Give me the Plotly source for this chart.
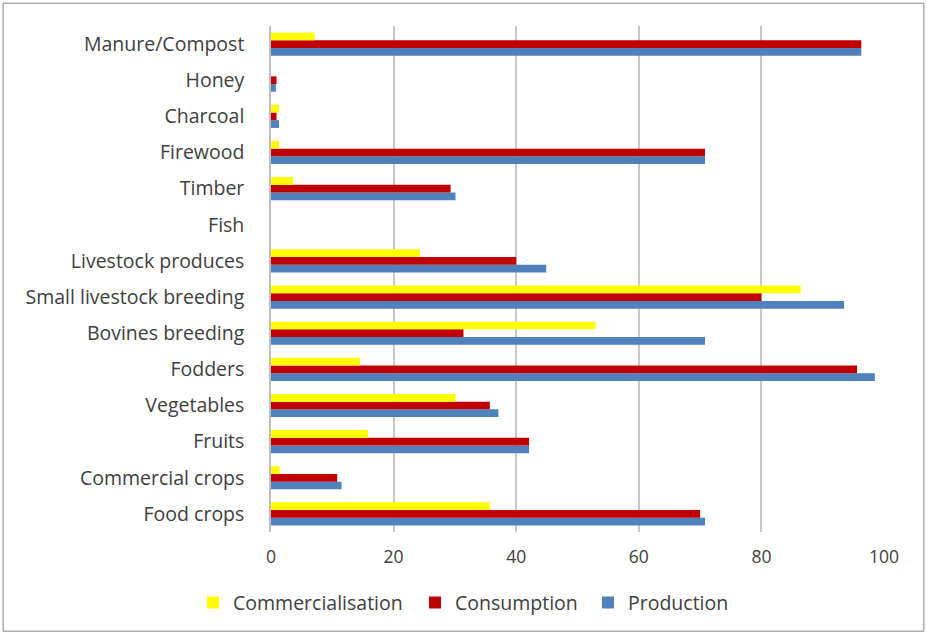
import plotly.graph_objects as go

# Categories listed bottom-to-top as they appear on the chart
categories = [
    "Food crops", "Commercial crops", "Fruits", "Vegetables", "Fodders",
    "Bovines breeding", "Small livestock breeding", "Livestock produces",
    "Fish", "Timber", "Firewood", "Charcoal", "Honey", "Manure/Compost",
]

commercialisation = [35.7, 1.4, 15.8, 30.1, 14.5, 52.9, 86.4, 24.3, 0, 3.6, 1.3, 1.3, 0, 7.1]
consumption = [70.0, 10.8, 42.1, 35.7, 95.6, 31.4, 80.0, 40.0, 0, 29.3, 70.8, 0.9, 0.9, 96.3]
production = [70.8, 11.5, 42.1, 37.1, 98.5, 70.8, 93.5, 44.9, 0, 30.1, 70.8, 1.3, 0.8, 96.3]

x_ticks = [0, 20, 40, 60, 80, 100]

FONT = "Open Sans"
TEXT = "#404040"

fig = go.Figure()
# Plotly stacks grouped horizontal bars from the bottom up, so the series
# that should sit lowest in each group is added first.
fig.add_trace(go.Bar(y=categories, x=production, orientation="h", name="Production",
                     marker=dict(color="#4F81BD", line=dict(width=0)), legend="legend3"))
fig.add_trace(go.Bar(y=categories, x=consumption, orientation="h", name="Consumption",
                     marker=dict(color="#C00000", line=dict(width=0)), legend="legend2"))
fig.add_trace(go.Bar(y=categories, x=commercialisation, orientation="h", name="Commercialisation",
                     marker=dict(color="#FFFF00", line=dict(width=0)), legend="legend"))

legend_font = dict(family=FONT, size=19.5, color=TEXT)


def legend_box(x):
    return dict(orientation="h", x=x, xanchor="left", y=-0.14, yanchor="middle",
                font=legend_font, itemwidth=30, bgcolor="rgba(0,0,0,0)")


fig.update_layout(
    width=927, height=634,
    margin=dict(l=271, r=43, t=26, b=102),
    paper_bgcolor="white", plot_bgcolor="white",
    barmode="group", bargap=0.36, bargroupgap=0,
    font=dict(family=FONT, size=19.5, color=TEXT),
    xaxis=dict(
        range=[0, 100], tickvals=x_ticks, ticktext=[str(v) for v in x_ticks],
        showgrid=True, gridcolor="#C8C8C8", gridwidth=1.5,
        zeroline=False, showline=False, ticks="",
        ticklabelstandoff=12,
        tickfont=dict(family=FONT, size=17.5, color=TEXT),
    ),
    yaxis=dict(
        type="category", categoryorder="array", categoryarray=categories,
        showgrid=False, zeroline=False,
        showline=True, linecolor="#BFBFBF", linewidth=1.5,
        ticks="", ticklabelstandoff=21,
        tickfont=dict(family=FONT, size=19.5, color=TEXT),
    ),
    legend=legend_box(-0.1272),
    legend2=legend_box(0.2349),
    legend3=legend_box(0.5171),
    showlegend=True,
    shapes=[dict(type="rect", xref="paper", yref="paper",
                 x0=-0.437, x1=1.065, y0=-0.196, y1=1.045,
                 line=dict(color="#878787", width=1), layer="below")],
)

fig.write_html("out.html")
